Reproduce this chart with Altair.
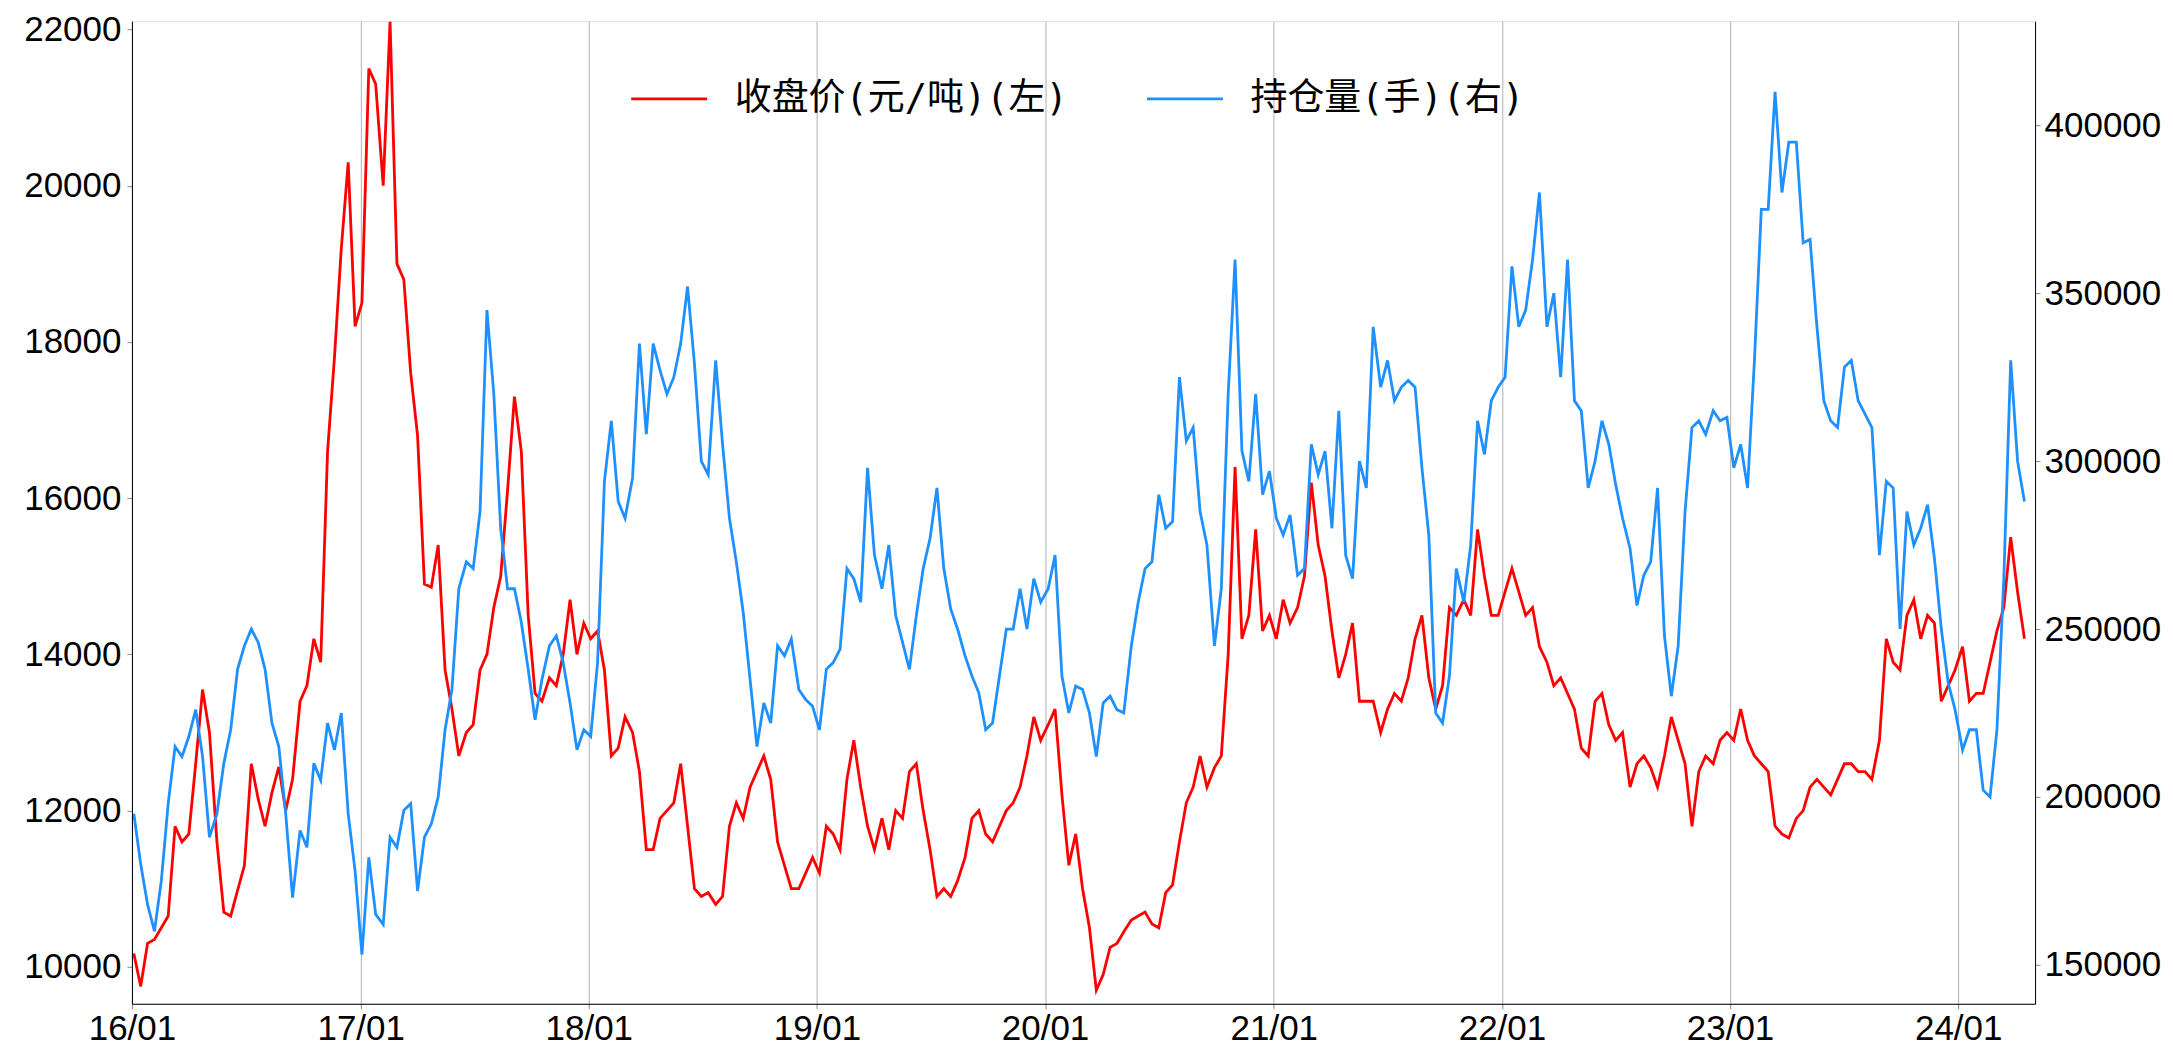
import altair as alt
import pandas as pd

TITLE = "橡胶指数收盘价和持仓量"
SERIES = ["收盘价(元/吨)(左)", "持仓量(手)(右)"]
COLORS = ["#FF0000", "#1E90FF"]
YEARS = list(range(2016, 2025))
LEFT_TICKS = [10000, 12000, 14000, 16000, 18000, 20000, 22000]
RIGHT_TICKS = [150000, 200000, 250000, 300000, 350000, 400000]

# one reading about every 11 days
dates = pd.date_range("2016-01-04", periods=274, freq="266h").strftime("%Y-%m-%d").tolist()

close_price = [
    10170, 9750, 10300, 10350, 10500, 10650, 11800, 11600, 11700, 12600,
    13550, 13000, 11600, 10700, 10650, 10980, 11300, 12600, 12150, 11800,
    12230, 12560, 12000, 12400, 13400, 13600, 14200, 13900, 16600, 17800,
    19200, 20300, 18200, 18500, 21500, 21300, 20000, 22100, 19000, 18800,
    17600, 16800, 14900, 14860, 15400, 13800, 13300, 12700, 13000, 13100,
    13800, 14000, 14600, 15000, 16100, 17300, 16600, 14500, 13500, 13400,
    13700, 13600, 14000, 14700, 14000, 14400, 14200, 14300, 13800, 12700,
    12800, 13200, 13000, 12500, 11500, 11500, 11900, 12000, 12100, 12600,
    11800, 11000, 10900, 10950, 10800, 10900, 11800, 12100, 11900, 12300,
    12500, 12700, 12400, 11600, 11300, 11000, 11000, 11200, 11400, 11200,
    11800, 11700, 11500, 12400, 12900, 12300, 11800, 11500, 11900, 11500,
    12000, 11900, 12500, 12600, 12000, 11500, 10900, 11000, 10900, 11100,
    11400, 11900, 12000, 11700, 11600, 11800, 12000, 12100, 12300, 12700,
    13200, 12900, 13100, 13300, 12200, 11300, 11700, 11000, 10500, 9700,
    9900, 10250, 10300, 10450, 10600, 10650, 10700, 10550, 10500, 10950,
    11050, 11600, 12100, 12300, 12700, 12300, 12550, 12700, 14000, 16400,
    14200, 14500, 15600, 14300, 14500, 14200, 14700, 14400, 14600, 15000,
    16200, 15400, 15000, 14300, 13700, 14000, 14400, 13400, 13400, 13400,
    13000, 13300, 13500, 13400, 13700, 14200, 14500, 13700, 13300, 13600,
    14600, 14500, 14700, 14500, 15600, 15000, 14500, 14500, 14800, 15100,
    14800, 14500, 14600, 14100, 13900, 13600, 13700, 13500, 13300, 12800,
    12700, 13400, 13500, 13100, 12900, 13000, 12300, 12600, 12700, 12550,
    12300, 12700, 13200, 12900, 12600, 11800, 12500, 12700, 12600, 12900,
    13000, 12900, 13300, 12900, 12700, 12600, 12500, 11800, 11700, 11650,
    11900, 12000, 12300, 12400, 12300, 12200, 12400, 12600, 12600, 12500,
    12500, 12400, 12900, 14200, 13900, 13800, 14500, 14700, 14200, 14500,
    14400, 13400, 13600, 13800, 14100, 13400, 13500, 13500, 13900, 14300,
    14600, 15500, 14800, 14200,
]

open_interest = [
    195000, 180000, 168000, 160000, 175000, 198000, 215000, 212000, 218000, 226000,
    212000, 188000, 195000, 210000, 220000, 238000, 245000, 250000, 246000, 238000,
    222000, 215000, 195000, 170000, 190000, 185000, 210000, 205000, 222000, 214000,
    225000, 195000, 178000, 153000, 182000, 165000, 162000, 188000, 185000, 196000,
    198000, 172000, 188000, 192000, 200000, 220000, 232000, 262000, 270000, 268000,
    285000, 345000, 320000, 280000, 262000, 262000, 252000, 238000, 223000, 235000,
    245000, 248000, 240000, 228000, 214000, 220000, 218000, 240000, 294000, 312000,
    288000, 283000, 295000, 335000, 308000, 335000, 327000, 320000, 325000, 335000,
    352000, 329000, 300000, 296000, 330000, 305000, 283000, 270000, 255000, 235000,
    215000, 228000, 222000, 245000, 242000, 247000, 232000, 229000, 227000, 220000,
    238000, 240000, 244000, 268000, 265000, 258000, 298000, 272000, 262000, 275000,
    254000, 246000, 238000, 254000, 268000, 277000, 292000, 268000, 256000, 250000,
    242000, 236000, 231000, 220000, 222000, 236000, 250000, 250000, 262000, 250000,
    265000, 258000, 262000, 272000, 236000, 225000, 233000, 232000, 225000, 212000,
    228000, 230000, 226000, 225000, 245000, 258000, 268000, 270000, 290000, 280000,
    282000, 325000, 306000, 310000, 285000, 275000, 245000, 262000, 320000, 360000,
    303000, 294000, 320000, 290000, 297000, 283000, 278000, 284000, 266000, 268000,
    305000, 296000, 303000, 280000, 315000, 272000, 265000, 300000, 292000, 340000,
    322000, 330000, 318000, 322000, 324000, 322000, 298000, 278000, 225000, 222000,
    236000, 268000, 258000, 275000, 312000, 302000, 318000, 322000, 325000, 358000,
    340000, 345000, 360000, 380000, 340000, 350000, 325000, 360000, 318000, 315000,
    292000, 300000, 312000, 305000, 293000, 283000, 274000, 257000, 266000, 270000,
    292000, 248000, 230000, 245000, 285000, 310000, 312000, 308000, 315000, 312000,
    313000, 298000, 305000, 292000, 330000, 375000, 375000, 410000, 380000, 395000,
    395000, 365000, 366000, 340000, 318000, 312000, 310000, 328000, 330000, 318000,
    314000, 310000, 272000, 294000, 292000, 250000, 285000, 275000, 280000, 287000,
    271000, 250000, 234000, 226000, 214000, 220000, 220000, 202000, 200000, 220000,
    265000, 330000, 300000, 288000,
]

wide = pd.DataFrame({"date": dates, SERIES[0]: close_price, SERIES[1]: open_interest})
long = wide.melt(id_vars="date", var_name="series", value_name="value")

CN = "Noto Sans CJK SC"
LEGEND_FONT = "DejaVu Sans Mono, Noto Sans CJK SC"
NUM = "Liberation Sans"

x_enc = alt.X(
    "date:T",
    title=None,
    scale=alt.Scale(
        type="utc",
        domain=[alt.DateTime(year=2016, month=1, date=1, utc=True),
                alt.DateTime(year=2024, month=5, date=3, utc=True)],
    ),
    axis=alt.Axis(
        values=[alt.DateTime(year=y, month=1, date=1, utc=True) for y in YEARS],
        labelExpr="utcFormat(datum.value, '%y/%m')",
        grid=True, gridColor="#b0b0b0", gridWidth=1,
        labelFontSize=35, labelFont=NUM, labelPadding=3, labelFlush=False,
        domainColor="black",
    ),
)

legend = alt.Legend(
    title=None, orient="none", legendX=498, legendY=38, direction="horizontal",
    symbolType="stroke", symbolSize=5776, symbolStrokeWidth=2.8,
    labelFontSize=37, labelFont=LEGEND_FONT, labelColor="black", labelOffset=26,
    labelLimit=800, columnPadding=72, padding=0,
)
color_enc = alt.Color("series:N", scale=alt.Scale(domain=SERIES, range=COLORS), legend=legend)

base = alt.Chart(long)

red = base.transform_filter(alt.datum.series == SERIES[0]).mark_line(strokeWidth=2.8).encode(
    x=x_enc,
    y=alt.Y("value:Q", title=None,
            scale=alt.Scale(domain=[9527, 22106], nice=False, zero=False),
            axis=alt.Axis(values=LEFT_TICKS, format="d", grid=False, labelFontSize=35,
                          labelFont=NUM, labelPadding=6, orient="left",
                          domainColor="black", zindex=1)),
    color=color_enc,
)

blue = base.transform_filter(alt.datum.series == SERIES[1]).mark_line(strokeWidth=2.8).encode(
    x=x_enc,
    y=alt.Y("value:Q", title=None,
            scale=alt.Scale(domain=[138400, 431000], nice=False, zero=False),
            axis=alt.Axis(values=RIGHT_TICKS, format="d", grid=False, labelFontSize=35,
                          labelFont=NUM, labelPadding=4, orient="right",
                          domainColor="black", zindex=1)),
    color=color_enc,
)

chart = alt.layer(red, blue).resolve_scale(y="independent").properties(
    width=1904, height=983,
    padding={"left": 124, "top": 13, "right": 130, "bottom": 45},
    autosize=alt.AutoSizeParams(type="none"),
    title=alt.TitleParams(TITLE, fontSize=61, font=CN, fontWeight="normal",
                          anchor="middle", baseline="alphabetic", offset=12, color="black"),
).configure_view(
    stroke="black", strokeWidth=2
).configure_axis(
    domainColor="black", domainWidth=2, tickColor="black", tickWidth=2,
    tickSize=8, labelColor="black"
).configure(background="white")

chart.save("out.html", embed_options={"renderer": "svg", "actions": False})
